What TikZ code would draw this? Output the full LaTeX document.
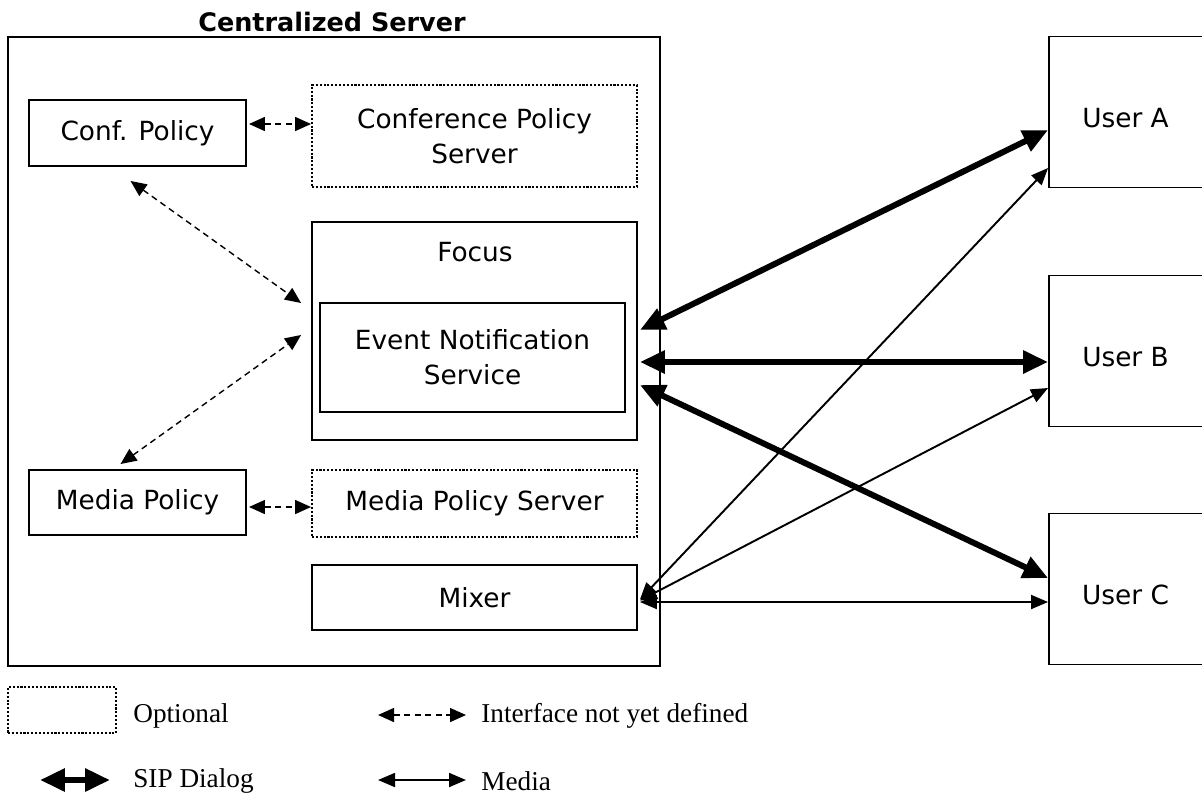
\documentclass[tikz,border=0pt]{standalone}
\usepackage{fontspec}
\setmainfont{DejaVu Sans}
\newfontfamily\legendfont{Liberation Serif}
\usetikzlibrary{arrows.meta,calc}

\begin{document}
\begin{tikzpicture}[x=0.02cm,y=-0.02cm,font=\fontsize{15}{20}\selectfont,
    box/.style={draw,line width=1.1pt,inner sep=0pt,align=center},
    optbox/.style={box,dash pattern=on 1.2pt off 1pt},
    userbox/.style={box,minimum width=3.26cm,minimum height=3.02cm},
    sip/.style={line width=3.4pt,{Triangle[length=0.5cm,width=0.44cm]}-{Triangle[length=0.5cm,width=0.44cm]}},
    media/.style={line width=1.1pt,{Triangle[length=0.34cm,width=0.28cm]}-{Triangle[length=0.34cm,width=0.28cm]}},
    iface/.style={line width=0.8pt,dash pattern=on 3.5pt off 2.5pt,{Triangle[length=0.32cm,width=0.28cm]}-{Triangle[length=0.32cm,width=0.28cm]}},
    legend/.style={font=\legendfont\fontsize{15.5}{18}\selectfont,anchor=west,inner sep=0pt}]
    \useasboundingbox (0,0) rectangle (1202,795);
    % centralized server
    \node[box,minimum width=13.04cm,minimum height=12.58cm] (server) at (334,351.5){};
    \node[font=\bfseries\fontsize{14.5}{18}\selectfont] (title) at (332,22){Centralized Server};
    \node[box,minimum width=4.34cm,minimum height=1.32cm] (conf) at (137.5,133){Conf. Policy};
    \node[optbox,minimum width=6.5cm,minimum height=2.04cm] (cps) at (474.5,136){Conference Policy\\Server};
    \node[box,minimum width=6.5cm,minimum height=4.36cm] (focus) at (474.5,331){};
    \node (focuslbl) at (475,252){Focus};
    \node[box,minimum width=6.1cm,minimum height=2.18cm] (ens) at (472.5,357.5){Event Notification\\Service};
    \node[box,minimum width=4.34cm,minimum height=1.3cm] (mpol) at (137.5,502.5){Media Policy};
    \node[optbox,minimum width=6.5cm,minimum height=1.34cm] (mps) at (474.5,503.5){Media Policy Server};
    \node[box,minimum width=6.5cm,minimum height=1.3cm] (mixer) at (474.5,597.5){Mixer};
    % users
    \node[userbox,label={[xshift=-0.1cm,yshift=-0.12cm]center:User A}] (usera) at (1130.5,112){};
    \node[userbox,label={[xshift=-0.1cm,yshift=-0.12cm]center:User B}] (userb) at (1130.5,351){};
    \node[userbox,label={[xshift=-0.1cm,yshift=-0.12cm]center:User C}] (userc) at (1130.5,589){};
    % interfaces
    \draw[iface] ($(conf.east)+(2,-9)$) -- ($(cps.west)+(0,-12)$);
    \draw[iface] ($(conf.south)+(-7,14)$) -- ($(focus.west)+(-10,-28)$);
    \draw[iface] ($(mpol.north)+(-17,-5)$) -- ($(focus.west)+(-10,4)$);
    \draw[iface] ($(mpol.east)+(2,4.5)$) -- ($(mps.west)+(0,3.5)$);
    % sip dialogs
    \draw[sip] ($(focus.east)+(2,-1)$) -- ($(usera.west)+(0,18)$);
    \draw[sip] ($(focus.east)+(2,31)$) -- ($(userb.west)+(0,11)$);
    \draw[sip] ($(focus.east)+(2,54)$) -- ($(userc.west)+(0,-11)$);
    % media
    \draw[media] ($(mixer.east)+(2,2)$) -- ($(usera.west)+(0,56)$);
    \draw[media] ($(mixer.east)+(2,3)$) -- ($(userb.west)+(0,37)$);
    \draw[media] ($(mixer.east)+(2,4.5)$) -- ($(userc.west)+(0,13)$);
    % legend
    \node[optbox,minimum width=2.16cm,minimum height=0.92cm] (optkey) at (62,710){};
    \node[legend] (opttxt) at (133,716){Optional};
    \coordinate (ifa) at (378,715);
    \coordinate (ifb) at (466,715);
    \draw[iface] (ifa) -- (ifb);
    \node[legend] (iftxt) at (481,716){Interface not yet defined};
    \coordinate (sipa) at (40,780);
    \coordinate (sipb) at (110,780);
    \draw[sip] (sipa) -- (sipb);
    \node[legend] (siptxt) at (133,781){SIP Dialog};
    \coordinate (meda) at (378,780);
    \coordinate (medb) at (466,780);
    \draw[media] (meda) -- (medb);
    \node[legend] (medtxt) at (481,781){Media};
\end{tikzpicture}
\end{document}
